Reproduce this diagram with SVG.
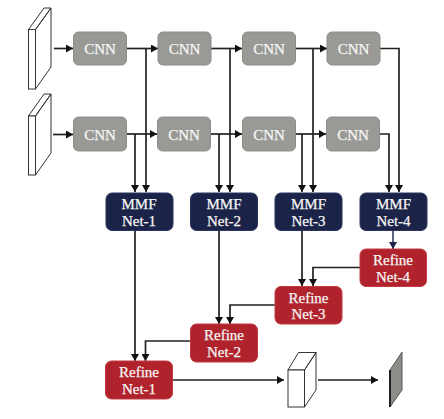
<svg xmlns="http://www.w3.org/2000/svg" width="444" height="419" viewBox="0 0 444 419">
<style>
.cnn{fill:#999a96;stroke:#8c8d89;stroke-width:1}
.mmf{fill:#1b2349;stroke:#2b3560;stroke-width:1}
.ref{fill:#b0222c;stroke:#c33a42;stroke-width:1}
text{font-family:"Liberation Serif",serif;font-size:15px;text-anchor:middle}
.w{fill:#f6f6f4;stroke:#f6f6f4;stroke-width:.25}
.l{fill:none;stroke:#222;stroke-width:1.7}
.n{fill:none;stroke:#1b2349;stroke-width:1.4}
.s{fill:#fff;stroke:#333;stroke-width:1}
</style>
<defs>
<marker id="a" markerUnits="userSpaceOnUse" markerWidth="8" markerHeight="8" refX="7" refY="4" orient="auto"><path d="M0 0L7 4L0 8Z" fill="#111"/></marker>
<marker id="b" markerUnits="userSpaceOnUse" markerWidth="8" markerHeight="8" refX="7" refY="4" orient="auto"><path d="M0 0L7 4L0 8Z" fill="#1b2349"/></marker>
</defs>
<g id="connectors" marker-end="url(#a)">
<path class="l" d="M54 48.500H73"/>
<path class="l" d="M53 134.500H73"/>
<path class="l" d="M126 48.500H158"/>
<path class="l" d="M126 134H157"/>
<path class="l" d="M211 48.500H242"/>
<path class="l" d="M211 134H242"/>
<path class="l" d="M295 48.500H327"/>
<path class="l" d="M295 134H326"/>
<path class="l" d="M146 48.500V192"/>
<path class="l" d="M135 134V192"/>
<path class="l" d="M230 48.500V192"/>
<path class="l" d="M219 134V192"/>
<path class="l" d="M313 48.500V192"/>
<path class="l" d="M302 134V192"/>
<path class="l" d="M380 48.500H399V192"/>
<path class="l" d="M379 134H389V192"/>
<path class="l" d="M135 230V361"/>
<path class="l" d="M219 230V324"/>
<path class="l" d="M302 230V286"/>
<path class="n" marker-end="url(#b)" d="M393 230V249"/>
<path class="l" d="M360 267.500H313V286"/>
<path class="l" d="M275 305H230V324"/>
<path class="l" d="M190 341H145.500V361"/>
<path class="l" d="M172 380H284"/>
<path class="l" d="M318 380H378"/>
</g>
<g id="input-1"><path class="s" d="M28.500 29.500L44 8H51L35.500 29.500ZM35.500 29.500L51 8V67L35.500 89Z"/><rect class="s" x="28.500" y="29.500" width="7" height="59.500"/></g>
<g id="input-2"><path class="s" d="M28.500 116L44 94H51L35.500 116ZM35.500 116L51 94V153L35.500 175Z"/><rect class="s" x="28.500" y="116" width="7" height="59"/></g>
<g id="cnn-1-1"><rect class="cnn" x="73.500" y="32" width="53" height="33" rx="5"/><text class="w" x="100" y="54">CNN</text></g>
<g id="cnn-1-2"><rect class="cnn" x="158" y="32" width="53" height="33" rx="5"/><text class="w" x="184.500" y="54">CNN</text></g>
<g id="cnn-1-3"><rect class="cnn" x="242.500" y="32" width="53" height="33" rx="5"/><text class="w" x="269" y="54">CNN</text></g>
<g id="cnn-1-4"><rect class="cnn" x="327" y="32" width="53" height="33" rx="5"/><text class="w" x="353.500" y="54">CNN</text></g>
<g id="cnn-2-1"><rect class="cnn" x="73.500" y="117" width="53" height="34" rx="5"/><text class="w" x="100" y="139.500">CNN</text></g>
<g id="cnn-2-2"><rect class="cnn" x="157.500" y="117" width="53" height="34" rx="5"/><text class="w" x="184" y="139.500">CNN</text></g>
<g id="cnn-2-3"><rect class="cnn" x="242.500" y="117" width="53" height="34" rx="5"/><text class="w" x="269" y="139.500">CNN</text></g>
<g id="cnn-2-4"><rect class="cnn" x="326.500" y="117" width="53" height="34" rx="5"/><text class="w" x="353" y="139.500">CNN</text></g>
<g id="mmf-1"><rect class="mmf" x="106" y="193" width="67" height="37.500" rx="6"/><text class="w" x="139" y="209">MMF</text><text class="w" x="139" y="226">Net-1</text></g>
<g id="mmf-2"><rect class="mmf" x="190.500" y="193" width="67" height="37.500" rx="6"/><text class="w" x="224" y="209">MMF</text><text class="w" x="224" y="226">Net-2</text></g>
<g id="mmf-3"><rect class="mmf" x="275" y="193" width="67" height="37.500" rx="6"/><text class="w" x="308.500" y="209">MMF</text><text class="w" x="308.500" y="226">Net-3</text></g>
<g id="mmf-4"><rect class="mmf" x="360" y="193" width="67" height="37.500" rx="6"/><text class="w" x="393.500" y="209">MMF</text><text class="w" x="393.500" y="226">Net-4</text></g>
<g id="refine-4"><rect class="ref" x="360" y="249" width="66.500" height="37.500" rx="6"/><text class="w" x="393" y="265">Refine</text><text class="w" x="393" y="282">Net-4</text></g>
<g id="refine-3"><rect class="ref" x="275" y="286.500" width="67" height="37.500" rx="6"/><text class="w" x="308.500" y="302.500">Refine</text><text class="w" x="308.500" y="319">Net-3</text></g>
<g id="refine-2"><rect class="ref" x="190.500" y="324" width="67" height="38" rx="6"/><text class="w" x="224" y="340">Refine</text><text class="w" x="224" y="357">Net-2</text></g>
<g id="refine-1"><rect class="ref" x="105.500" y="361" width="67" height="38" rx="6"/><text class="w" x="139" y="377">Refine</text><text class="w" x="139" y="394">Net-1</text></g>
<g id="output-volume"><path class="s" d="M288 370L298.500 352.500H316L304.500 370ZM304.500 370L316 352.500V390L304.500 407Z"/><rect class="s" x="288" y="370" width="16.500" height="37"/></g>
<g id="output-map"><path d="M390 370L402 352V390L390 407Z" fill="#8c8d89" stroke="#555" stroke-width="1"/><path d="M390 370V407" stroke="#222" stroke-width="2" fill="none"/></g>
</svg>
